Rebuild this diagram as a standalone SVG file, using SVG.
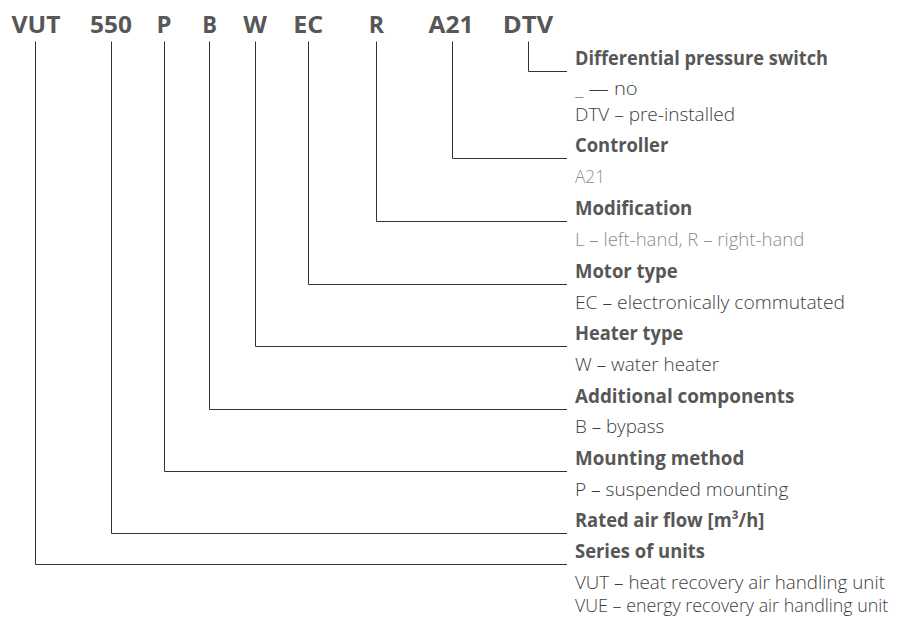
<svg xmlns="http://www.w3.org/2000/svg" width="913" height="617" viewBox="0 0 913 617">
<style>
.hd{font-family:"Open Sans","Liberation Sans",sans-serif;font-weight:700;font-size:24px;fill:#575757;text-anchor:middle}
.lb{font-family:"Open Sans","Liberation Sans",sans-serif;font-weight:700;font-size:19.5px;fill:#575757}
.vl{font-family:"Open Sans","Liberation Sans",sans-serif;font-weight:300;font-size:18.5px;fill:#3d3d3d}
.gr{fill:#8c8c8c}
.ln{fill:none;stroke:#333;stroke-width:1}
</style>
<rect width="913" height="617" fill="#fff"/>
<g id="header">
<text class="hd" x="36" y="33" textLength="49" lengthAdjust="spacingAndGlyphs">VUT</text>
<text class="hd" x="111" y="33" textLength="42" lengthAdjust="spacingAndGlyphs">550</text>
<text class="hd" x="164" y="33" textLength="15" lengthAdjust="spacingAndGlyphs">P</text>
<text class="hd" x="209.5" y="33" textLength="14.7" lengthAdjust="spacingAndGlyphs">B</text>
<text class="hd" x="255" y="33" textLength="23.7" lengthAdjust="spacingAndGlyphs">W</text>
<text class="hd" x="308.3" y="33" textLength="30" lengthAdjust="spacingAndGlyphs">EC</text>
<text class="hd" x="376.5" y="33" textLength="15.3" lengthAdjust="spacingAndGlyphs">R</text>
<text class="hd" x="451" y="33" textLength="45" lengthAdjust="spacingAndGlyphs">A21</text>
<text class="hd" x="528" y="33" textLength="50.6" lengthAdjust="spacingAndGlyphs">DTV</text>
</g>
<g id="connectors">
<path class="ln" d="M528.5,41.5 V71.5 H567"/>
<path class="ln" d="M452.5,41.5 V158.5 H567"/>
<path class="ln" d="M376.5,41.5 V221.5 H567"/>
<path class="ln" d="M308.5,41.5 V284.5 H567"/>
<path class="ln" d="M255.5,41.5 V346.5 H567"/>
<path class="ln" d="M209.5,41.5 V409.5 H567"/>
<path class="ln" d="M164.5,41.5 V471.5 H567"/>
<path class="ln" d="M111.5,41.5 V533.5 H567"/>
<path class="ln" d="M35.5,41.5 V564.5 H567"/>
</g>
<g id="dtv">
<text class="lb" x="575" y="65" textLength="253" lengthAdjust="spacingAndGlyphs">Differential pressure switch</text>
<text class="vl" x="575" y="95" textLength="62.7" lengthAdjust="spacingAndGlyphs">_ — no</text>
<text class="vl" x="575" y="121" textLength="160" lengthAdjust="spacingAndGlyphs">DTV – pre-installed</text>
</g>
<g id="controller">
<text class="lb" x="575" y="152" textLength="93.3" lengthAdjust="spacingAndGlyphs">Controller</text>
<text class="vl gr" x="575" y="183" textLength="30" lengthAdjust="spacingAndGlyphs">A21</text>
</g>
<g id="modification">
<text class="lb" x="575" y="215" textLength="117.3" lengthAdjust="spacingAndGlyphs">Modification</text>
<text class="vl gr" x="575" y="246" textLength="229.3" lengthAdjust="spacingAndGlyphs">L – left-hand, R – right-hand</text>
</g>
<g id="motor">
<text class="lb" x="575" y="277.5" textLength="102.7" lengthAdjust="spacingAndGlyphs">Motor type</text>
<text class="vl" x="575" y="308.5" textLength="270" lengthAdjust="spacingAndGlyphs">EC – electronically commutated</text>
</g>
<g id="heater">
<text class="lb" x="575" y="340" textLength="108.3" lengthAdjust="spacingAndGlyphs">Heater type</text>
<text class="vl" x="575" y="370.5" textLength="144" lengthAdjust="spacingAndGlyphs">W – water heater</text>
</g>
<g id="additional">
<text class="lb" x="575" y="402.5" textLength="219.3" lengthAdjust="spacingAndGlyphs">Additional components</text>
<text class="vl" x="575" y="433" textLength="89.3" lengthAdjust="spacingAndGlyphs">B – bypass</text>
</g>
<g id="mounting">
<text class="lb" x="575" y="464.5" textLength="169.3" lengthAdjust="spacingAndGlyphs">Mounting method</text>
<text class="vl" x="575" y="495.5" textLength="213.3" lengthAdjust="spacingAndGlyphs">P – suspended mounting</text>
</g>
<g id="airflow">
<text class="lb" x="575" y="527" textLength="189.3" lengthAdjust="spacingAndGlyphs">Rated air flow [m³/h]</text>
</g>
<g id="series">
<text class="lb" x="575" y="557.5" textLength="130" lengthAdjust="spacingAndGlyphs">Series of units</text>
<text class="vl" x="575" y="588.5" textLength="310" lengthAdjust="spacingAndGlyphs">VUT – heat recovery air handling unit</text>
<text class="vl" x="575" y="612" textLength="313.3" lengthAdjust="spacingAndGlyphs">VUE – energy recovery air handling unit</text>
</g>
</svg>
